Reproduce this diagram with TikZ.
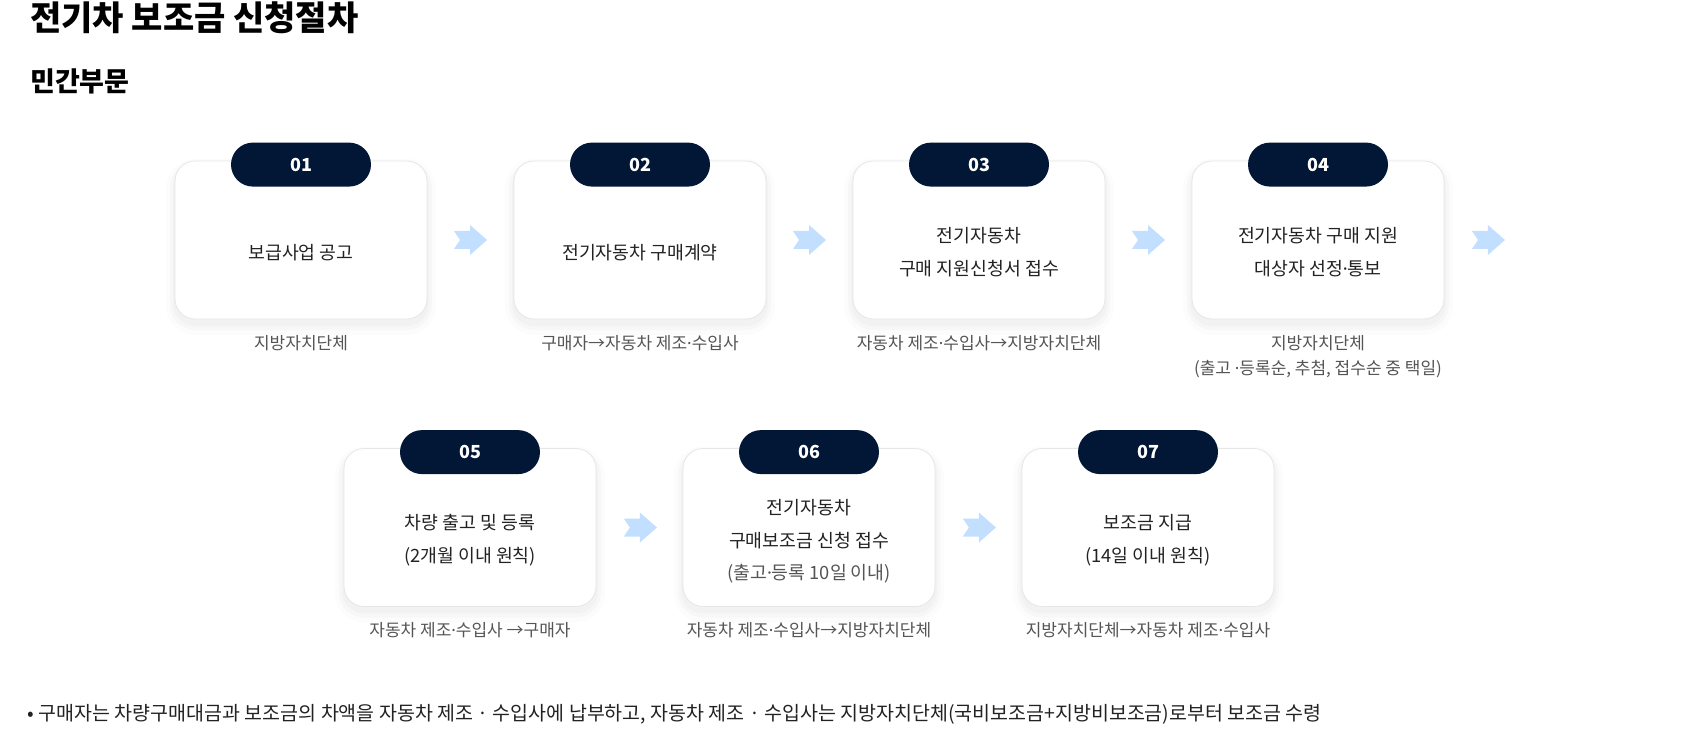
\documentclass[tikz,border=0pt]{standalone}
\usepackage{fontspec}
\setmainfont{Noto Sans CJK KR}
\newfontfamily\lfont{Noto Sans}
\newcommand{\mdot}{{\lfont ·}}
\usetikzlibrary{calc}
\definecolor{navy}{HTML}{021636}
\definecolor{arrowblue}{HTML}{C2DFFF}
\definecolor{bodytxt}{HTML}{222222}
\definecolor{subtxt}{HTML}{555555}
\definecolor{cardline}{HTML}{E6E6E6}
\begin{document}
\begin{tikzpicture}[x=1pt,y=-1pt,
  card/.style={draw=cardline, line width=0.8pt, fill=white, rounded corners=20pt,
    minimum width=252pt, minimum height=158pt, inner sep=0pt},
  shadowbox/.style={fill=black, rounded corners=22pt, minimum width=256pt, minimum height=162pt, inner sep=0pt, opacity=0.02},
  badge/.style={fill=navy, rounded corners=22pt, minimum width=140pt, minimum height=44pt,
    text=white, font=\fontsize{18}{20}\selectfont\bfseries, inner sep=0pt},
  body/.style={align=center, text=bodytxt, font=\fontsize{18.3}{33}\selectfont, inner sep=0pt},
  note/.style={align=center, text=subtxt, font=\fontsize{18.3}{20}\selectfont, inner sep=0pt},
  sub/.style={align=center, text=subtxt, font=\fontsize{17}{25}\selectfont, inner sep=0pt, anchor=base},
  flowarrow/.style={fill=arrowblue, draw=none},
  title/.style={anchor=base west, inner sep=0pt, font=\fontsize{34}{38}\selectfont\bfseries},
  heading/.style={anchor=base west, inner sep=0pt, font=\fontsize{27}{30}\selectfont\bfseries},
  bullet/.style={anchor=base west, inner sep=0pt, text=bodytxt, font=\fontsize{19.5}{22}\selectfont}
]
\useasboundingbox (0,0) rectangle (1702,735);
\fill[white] (0,0) rectangle (1702,735);

\node[title] (t) at (30,31) {전기차 보조금 신청절차};
\node[heading] (h) at (30,92) {민간부문};

% shadows
\foreach \x/\y in {301/240,640/240,979/240,1318/240,470/527.5,809/527.5,1148/527.5}{
  \node[shadowbox] at (\x,\y+5) {};
  \node[shadowbox, minimum width=262pt, minimum height=168pt, rounded corners=25pt] at (\x,\y+6) {};
  \node[shadowbox, minimum width=270pt, minimum height=176pt, rounded corners=29pt, opacity=0.012] at (\x,\y+7) {};
}

% cards row 1
\node[card] (c1) at (301,240) {};
\node[card] (c2) at (640,240) {};
\node[card] (c3) at (979,240) {};
\node[card] (c4) at (1318,240) {};
% cards row 2
\node[card] (c5) at (470,527.5) {};
\node[card] (c6) at (809,527.5) {};
\node[card] (c7) at (1148,527.5) {};

% badges
\node[badge] (b1) at ($(c1.north)+(0,4)$) {01};
\node[badge] (b2) at ($(c2.north)+(0,4)$) {02};
\node[badge] (b3) at ($(c3.north)+(0,4)$) {03};
\node[badge] (b4) at ($(c4.north)+(0,4)$) {04};
\node[badge] (b5) at ($(c5.north)+(0,4)$) {05};
\node[badge] (b6) at ($(c6.north)+(0,4)$) {06};
\node[badge] (b7) at ($(c7.north)+(0,4)$) {07};

% body texts
\node[body] (x1) at ($(c1.north)+(0,92)$) {보급사업 공고};
\node[body] (x2) at ($(c2.north)+(0,92)$) {전기자동차 구매계약};
\node[body] (x3) at ($(c3.north)+(0,92)$) {전기자동차\\구매 지원신청서 접수};
\node[body] (x4) at ($(c4.north)+(0,92)$) {전기자동차 구매 지원\\대상자 선정\mdot 통보};
\node[body] (x5) at ($(c5.north)+(0,92)$) {차량 출고 및 등록\\(2개월 이내 원칙)};
\node[body] (x6) at ($(c6.north)+(0,76)$) {전기자동차\\구매보조금 신청 접수};
\node[note] (n6) at ($(c6.north)+(0,126)$) {(출고\mdot 등록 10일 이내)};
\node[body] (x7) at ($(c7.north)+(0,92)$) {보조금 지급\\(14일 이내 원칙)};

% sub labels
\node[sub] (s1) at ($(c1.south)+(0,30)$) {지방자치단체};
\node[sub] (s2) at ($(c2.south)+(0,30)$) {구매자→자동차 제조\mdot 수입사};
\node[sub] (s3) at ($(c3.south)+(0,30)$) {자동차 제조\mdot 수입사→지방자치단체};
\node[sub] (s4) at ($(c4.south)+(0,30)$) {지방자치단체};
\node[sub] (s4b) at ($(c4.south)+(0,55)$) {(출고 \mdot 등록순, 추첨, 접수순 중 택일)};
\node[sub] (s5) at ($(c5.south)+(0,30)$) {자동차 제조\mdot 수입사 →구매자};
\node[sub] (s6) at ($(c6.south)+(0,30)$) {자동차 제조\mdot 수입사→지방자치단체};
\node[sub] (s7) at ($(c7.south)+(0,30)$) {지방자치단체→자동차 제조\mdot 수입사};

% arrow positions
\coordinate (a12) at ($(c1.east)!0.5!(c2.west)$);
\coordinate (a23) at ($(c2.east)!0.5!(c3.west)$);
\coordinate (a34) at ($(c3.east)!0.5!(c4.west)$);
\coordinate (a4x) at ($(c4.east)+(44,0)$);
\coordinate (a56) at ($(c5.east)+(44,0)$);
\coordinate (a67) at ($(c6.east)+(44,0)$);
\foreach \a in {a12,a23,a34,a4x,a56,a67}{
  \fill[flowarrow] ($(\a)+(-16.5,-9)$) -- ($(\a)+(-0.5,-9)$) -- ($(\a)+(-0.5,-15)$)
    -- ($(\a)+(16.5,0)$) -- ($(\a)+(-0.5,15)$) -- ($(\a)+(-0.5,9)$)
    -- ($(\a)+(-16.5,9)$) -- ($(\a)+(-10.5,0)$) -- cycle;
}

% bullet note
\node[bullet] (bl) at (27,720) {•\hspace{5pt}구매자는 차량구매대금과 보조금의 차액을 자동차 제조 · 수입사에 납부하고, 자동차 제조 · 수입사는 지방자치단체(국비보조금+지방비보조금)로부터 보조금 수령};
\end{tikzpicture}
\end{document}
